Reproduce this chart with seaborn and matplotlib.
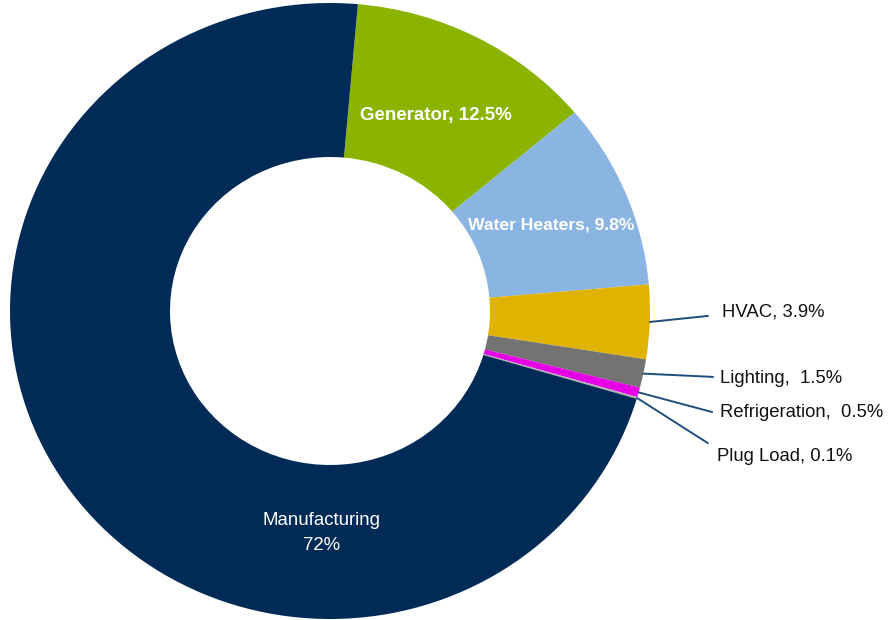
import numpy as np
import matplotlib
matplotlib.use("Agg")
import matplotlib.pyplot as plt
import seaborn as sns

# Energy use shares (%)
categories = ["Generator", "Water Heaters", "HVAC", "Lighting", "Refrigeration", "Plug Load", "Manufacturing"]
shares = [12.5, 9.8, 3.9, 1.5, 0.5, 0.1, 72]
labels = ["Generator, 12.5%", "Water Heaters, 9.8%", "HVAC, 3.9%", "Lighting,  1.5%",
          "Refrigeration,  0.5%", "Plug Load, 0.1%", "Manufacturing\n72%"]
colors = ["#8AB400", "#8AB4E1", "#E0B300", "#737373", "#E600E6", "#B0B0B0", "#012B57"]

sns.set_theme(style="white")
plt.rcParams["font.family"] = ["Liberation Sans", "DejaVu Sans"]

fig = plt.figure(figsize=(8.88, 6.2), dpi=100)
ax = fig.add_axes([10 / 888, 1 / 620, 640 / 888, 616 / 620])

wedges, _ = ax.pie(shares, colors=colors, startangle=85, counterclock=False,
                   radius=1, wedgeprops=dict(width=0.5, linewidth=0))
ax.set_xlim(-1, 1)
ax.set_ylim(-1, 1)
ax.set_aspect("auto")
ax.axis("off")

# labels inside the ring
ax.text(0.331, 0.636, labels[0], color="white", fontsize=13.5, fontweight="bold",
        ha="center", va="center")
ax.text(0.691, 0.279, labels[1], color="white", fontsize=12.6, fontweight="bold",
        ha="center", va="center")
ax.text(-0.025, -0.722, labels[6], color="white", fontsize=13.4,
        ha="center", va="center", linespacing=1.6)

# outside labels with leader lines
text_pos = {2: (1.225, -0.003), 3: (1.219, -0.218), 4: (1.219, -0.331), 5: (1.209, -0.472)}
line_end = {2: (1.181, -0.016), 3: (1.197, -0.214), 4: (1.194, -0.328), 5: (1.181, -0.429)}
for i, (tx, ty) in text_pos.items():
    w = wedges[i]
    mid = np.deg2rad((w.theta1 + w.theta2) / 2)
    x0, y0 = np.cos(mid), np.sin(mid)
    ex, ey = line_end[i]
    ax.plot([x0, ex], [y0, ey], color="#1F4E79", lw=1.4, clip_on=False)
    ax.text(tx, ty, labels[i], color="#111111", fontsize=13.3, ha="left", va="center")

fig.savefig("out.png", dpi=100)
